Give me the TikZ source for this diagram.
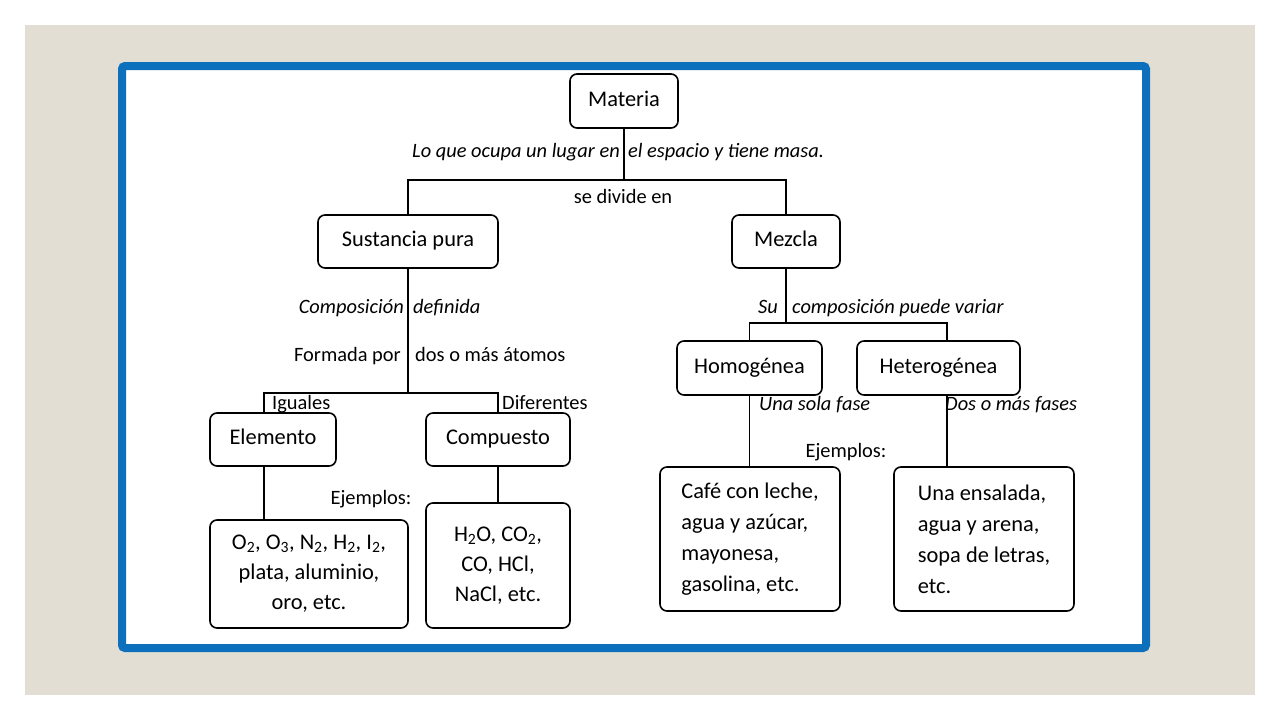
\documentclass[tikz,border=0pt]{standalone}
\usepackage{fontspec}
\setmainfont{Carlito}
\definecolor{beige}{RGB}{227,222,211}
\definecolor{frameblue}{RGB}{12,112,188}
\begin{document}
\begin{tikzpicture}[x=1pt,y=-1pt,
  box/.style={draw=black,line width=1.6pt,rounded corners=7pt,fill=white,inner sep=0pt,font=\fontsize{22.4}{30}\selectfont},
  sbox/.style={box,text height=15pt,text depth=5pt},
  lbl/.style={inner sep=0pt,font=\fontsize{20.4}{24}\selectfont,text height=14pt,text depth=4pt},
  ilbl/.style={lbl,font=\fontsize{20.4}{24}\selectfont\itshape},
  conn/.style={line width=1.6pt}]
\useasboundingbox (0,0) rectangle (1280,720);
\fill[white] (0,0) rectangle (1280,720);
\fill[beige] (25,25) rectangle (1255,695);
\draw[frameblue,line width=8pt,fill=white,rounded corners=3pt] (122,66) rectangle (1146,648);
% main nodes
\node[sbox,minimum width=108pt,minimum height=54pt] (mat) at (624,101) {Materia};
\node[sbox,minimum width=180pt,minimum height=53pt] (sp) at (408,241.5) {Sustancia pura};
\node[sbox,minimum width=108pt,minimum height=53pt] (mz) at (786,241.5) {Mezcla};
\node[sbox,minimum width=126pt,minimum height=53pt] (el) at (273,439.5) {Elemento};
\node[sbox,minimum width=144pt,minimum height=53pt] (cp) at (498,439.5) {Compuesto};
\node[sbox,minimum width=145pt,minimum height=54pt] (ho) at (749.5,368) {Homogénea};
\node[sbox,minimum width=163pt,minimum height=54pt] (he) at (938.5,368) {Heterogénea};
\node[box,minimum width=198pt,minimum height=108pt,align=center] (exel) at (309,574) {O\textsubscript{2}, O\textsubscript{3}, N\textsubscript{2}, H\textsubscript{2}, I\textsubscript{2},\\plata, aluminio,\\oro, etc.};
\node[box,minimum width=144pt,minimum height=125pt,align=center] (excp) at (498,565.5) {H\textsubscript{2}O, CO\textsubscript{2},\\CO, HCl,\\NaCl, etc.};
\node[box,minimum width=180pt,minimum height=144pt,align=left,font=\fontsize{22.4}{31}\selectfont] (exho) at (750,539) {Café con leche,\\agua y azúcar,\\mayonesa,\\gasolina, etc.};
\node[box,minimum width=180pt,minimum height=144pt,align=left,font=\fontsize{22.4}{31}\selectfont] (exhe) at (984,539) {Una ensalada,\\agua y arena,\\sopa de letras,\\etc.};
% junction coordinates
\coordinate (j1) at (624,180);
\coordinate (j2) at (408,393);
\coordinate (jel) at (264,393);
\coordinate (j3) at (786,323);
\coordinate (jhe) at (947,323);
% connectors
\draw[conn] (mat.south) -- (j1);
\draw[conn] (sp.north) |- (j1) -| (mz.north);
\draw[conn] (sp.south) -- (j2);
\draw[conn] (el.north -| jel) |- (j2) -| (cp.north);
\draw[conn] (mz.south) -- (j3);
\draw[conn] (ho.north) |- (j3) -| (he.north -| jhe);
\draw[conn] (el.south -| jel) -- (exel.north -| jel);
\draw[conn] (cp.south) -- (excp.north);
\draw[conn] (ho.south) -- (exho.north -| ho.south);
\draw[conn] (he.south -| jhe) -- (exhe.north -| jhe);
% labels
\node[ilbl,anchor=east] (l1a) at (620,152) {Lo que ocupa un lugar en};
\node[ilbl,anchor=west] (l1b) at (628,152) {el espacio y tiene masa.};
\node[lbl] (l2) at (623,198) {se divide en};
\node[ilbl,anchor=east] (l3a) at (404,308) {Composición};
\node[ilbl,anchor=west] (l3b) at (413,308) {definida};
\node[lbl,anchor=east] (l4a) at (401,356) {Formada por};
\node[lbl,anchor=west] (l4b) at (415,356) {dos o más átomos};
\node[lbl,anchor=west] (l5) at (272,404) {Iguales};
\node[lbl,anchor=west] (l6) at (502,404) {Diferentes};
\node[lbl] (l7) at (371,499) {Ejemplos:};
\node[ilbl,anchor=east] (l8a) at (778,308) {Su};
\node[ilbl,anchor=west] (l8b) at (792,308) {composición puede variar};
\node[ilbl,anchor=west] (l9) at (759,405) {Una sola fase};
\node[ilbl,anchor=west] (l10) at (945,405) {Dos o más fases};
\node[lbl] (l11) at (846,452) {Ejemplos:};
\end{tikzpicture}
\end{document}
